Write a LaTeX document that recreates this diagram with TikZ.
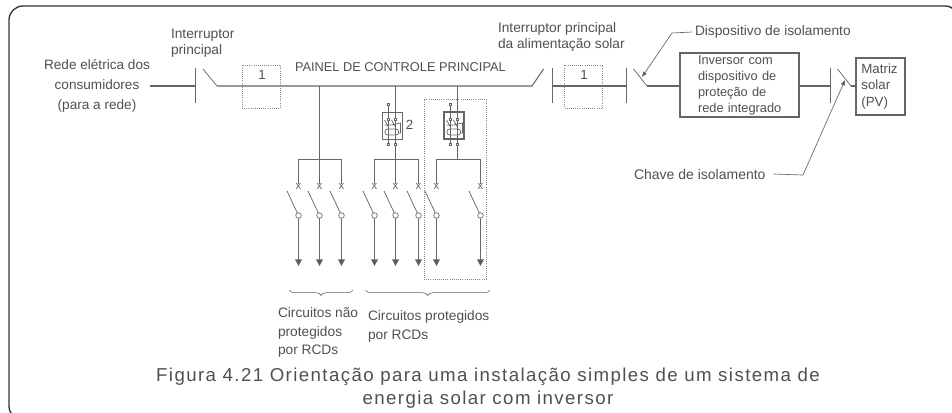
\documentclass[tikz,border=0pt]{standalone}
\usepackage{fontspec}
\setmainfont{Liberation Sans}
\newfontfamily\capfont[LetterSpace=7.5]{Liberation Sans}
\usetikzlibrary{arrows.meta,decorations.pathreplacing}
\definecolor{ink}{HTML}{505050}
\definecolor{wire}{HTML}{666666}
\definecolor{framec}{HTML}{333333}
\definecolor{dashc}{HTML}{888888}
\newcommand{\px}[2]{\fontsize{#1}{#2}\selectfont}
\tikzset{
  every node/.style={text=ink,inner sep=0pt,outer sep=0pt},
  wireline/.style={draw=wire,line width=0.78pt},
  thinwire/.style={draw=wire,line width=0.55pt},
  dashbox/.style={draw=dashc,line width=0.6pt,densely dotted},
  lab/.style={font=\px{10.3}{12},align=left},
  lead/.style={draw=wire,line width=0.5pt},
  leadarrow/.style={lead,-{Triangle[length=4pt,width=3pt,fill=wire]}},
  framebox/.style={draw=framec,line width=1pt,rounded corners=10.5pt},
  term/.style={draw=wire,line width=0.4pt,fill=white,minimum size=1.6pt,shape=rectangle},
  outarrow/.style={draw=wire,line width=0.7pt,-{Triangle[length=5pt,width=5.2pt,fill=wire!85!black]}},
  contact/.style={draw=wire,line width=0.5pt,fill=white,circle,minimum size=4.2pt},
  brace/.style={draw=wire,line width=0.45pt,decorate,decoration={brace,mirror,amplitude=4pt}}
}
% one residual current device; #1 name, #2 x of right terminal, #3 outline width
\newcommand{\rcdunit}[3]{%
  \node[draw=wire,line width=#3,minimum width=15pt,minimum height=20.25pt] (#1box) at (#2-3.5,125.5) {};
  \coordinate (#1tl) at (#2-7,104.5);
  \coordinate (#1ml) at (#2-7,119);
  \coordinate (#1mr) at (#2,119);
  \coordinate (#1bl) at (#2-7,144);
  \coordinate (#1br) at (#2,144);
  \draw[thinwire] (#1tl) -- (#1bl);
  \draw[thinwire] (#1mr) -- (#1br);
  \draw[thinwire] (#2-11,120) -- (#2-7,127) (#2-4,120) -- (#2,127);
  \draw[thinwire] (#2-11,125) -- (#2-3,125) (#2-4,125) -- (#2+5,123) -- (#2+5,133) -- (#2+3,133);
  \draw[thinwire,fill=white,rounded corners=1.9pt] (#2-10.5,129) rectangle (#2+3,135);
  \draw[thinwire] (#2-7,129) -- (#2-7,135) (#2,129) -- (#2,135);
  \foreach \t in {tl,ml,mr,bl,br}{\node[term] at (#1\t) {};}
}
% one outgoing circuit; #1 name, #2 x
\newcommand{\outcircuit}[2]{%
  \coordinate (#1top) at (#2,184);
  \coordinate (#1tip) at (#2,266);
  \node[contact] (#1c) at (#2,215.5) {};
  \coordinate (#1b) at (#2-11.5,191);
  \draw[thinwire] (#1b) -- (#1c);
  \draw[outarrow] (#1c) -- (#1tip);
  \node[text=wire,font=\px{8.5}{9}] (#1x) at (#2,186.5) {x};
}
\begin{document}
\begin{tikzpicture}[x=0.75pt,y=-0.75pt]
\useasboundingbox (0,0) rectangle (952,412);
\clip (0,0) rectangle (952,412);
\draw[framebox] (9,6) rectangle (959,420);

% labels
\node[lab,anchor=west] (ip) at (171,43) {Interruptor\\principal};
\node[font=\px{10.2}{15},align=center] (rede) at (97,86) {Rede elétrica dos\\consumidores\\(para a rede)};
\node[font=\px{9.6}{12},anchor=west] (painel) at (295,67) {PAINEL DE CONTROLE PRINCIPAL};
\node[lab,anchor=west] (ips) at (498,37) {Interruptor principal\\da alimentação solar};
\node[font=\px{10.3}{12},anchor=west] (disp) at (695,32) {Dispositivo de isolamento};
\node[font=\px{10.5}{12},anchor=west] (chave) at (634,174) {Chave de isolamento};

% boxes
\node[dashbox,minimum width=28.5pt,minimum height=32.25pt] (d1) at (261,86.5) {};
\node[font=\px{10}{12}] (n1) at (262,75) {1};
\node[dashbox,minimum width=28.5pt,minimum height=32.25pt] (d2) at (583.5,86.5) {};
\node[font=\px{10}{12}] (n2) at (584,75) {1};
\node[dashbox,minimum width=46.5pt,minimum height=135pt] (d3) at (455,189) {};
\node[draw=wire,line width=0.8pt,text width=89.25pt,minimum height=48pt,font=\px{9.6}{12},align=left] (inv) at (739.5,85) {\hspace*{13.5pt}Inversor com\\\hspace*{13.5pt}dispositivo de\\\hspace*{13.5pt}proteção de\\\hspace*{13.5pt}rede integrado};
\node[draw=wire,line width=0.8pt,text width=36.75pt,minimum height=42.75pt,font=\px{10}{12.4},align=left] (pv) at (880.5,86.5) {\hspace*{4pt}Matriz\\\hspace*{4pt}solar\\\hspace*{4pt}(PV)};

% main bus and switches
\coordinate (b1t) at (195.5,68); \coordinate (b1b) at (195.5,103); \coordinate (b1m) at (195.5,86);
\coordinate (s1a) at (203,69); \coordinate (s1b) at (217,86);
\coordinate (s2a) at (532,86); \coordinate (s2b) at (543.5,69);
\coordinate (b2t) at (552.5,68); \coordinate (b2b) at (552.5,103); \coordinate (b2m) at (552.5,86);
\coordinate (b3t) at (626.5,68); \coordinate (b3b) at (626.5,103); \coordinate (b3m) at (626.5,86);
\coordinate (s3a) at (633.5,69); \coordinate (s3b) at (647,86);
\coordinate (b4t) at (830.5,68); \coordinate (b4b) at (830.5,103); \coordinate (b4m) at (830.5,86);
\coordinate (s4a) at (837.5,69); \coordinate (s4b) at (851,86);
\draw[wireline] (rede.east |- b1m) -- (b1m);
\draw[wireline] (b1t) -- (b1b);
\draw[thinwire] (s1a) -- (s1b);
\draw[wireline] (s1b) -- (s2a) -- (s2b);
\draw[wireline] (b2t) -- (b2b);
\draw[wireline] (b2m) -- (b3m);
\draw[wireline] (b3t) -- (b3b);
\draw[thinwire] (s3a) -- (s3b);
\draw[wireline] (s3b) -- (inv.west |- s3b);
\draw[wireline] (inv.east |- b4m) -- (b4m);
\draw[wireline] (b4t) -- (b4b);
\draw[thinwire] (s4a) -- (s4b);
\draw[wireline] (s4b) -- (pv.west |- s4b);

% RCD branches
\coordinate (t1) at (319.5,86); \coordinate (f1) at (319.5,159.5);
\coordinate (t2) at (395.5,86); \coordinate (f2) at (395.5,159.5);
\coordinate (t3) at (457.5,86); \coordinate (f3) at (457.5,159.5);
\draw[wireline] (t1) -- (f1);
\draw[wireline] (t2) -- (f2);
\draw[wireline] (t3) -- (f3);
\rcdunit{ra}{395.5}{0.6pt}
\rcdunit{rb}{457.5}{1pt}
\node[font=\px{10}{12}] (n3) at (409.5,125) {2};

\outcircuit{a}{298.5}
\outcircuit{bb}{319.5}
\outcircuit{c}{341.5}
\outcircuit{d}{374.5}
\outcircuit{e}{395.5}
\outcircuit{f}{418.5}
\outcircuit{g}{436.5}
\outcircuit{h}{480.5}
\draw[wireline] (atop) |- (f1) -| (ctop);
\draw[wireline] (dtop) |- (f2) -| (ftop);
\draw[wireline] (gtop) |- (f3) -| (htop);
\draw[wireline] (f1) -- (bbtop);
\draw[wireline] (f2) -- (etop);

% leaders
\coordinate (dk) at (672,33); \coordinate (dp) at (642,77);
\draw[lead] (disp.west) ++(-3,0) -- (dk);
\draw[leadarrow] (dk) -- (dp);
\coordinate (ck) at (803,175); \coordinate (cp) at (845,80);
\draw[lead] (chave.east) ++(8,0) -- (ck);
\draw[leadarrow] (ck) -- (cp);

% braces
\coordinate (ba) at (289,290); \coordinate (bbb) at (353,290);
\coordinate (bc) at (365.5,290); \coordinate (bd) at (490,290);
\draw[brace] (ba) -- (bbb);
\draw[brace] (bc) -- (bd);
\node[font=\px{10.3}{14},align=left,anchor=north west] (u) at (278,307.5) {Circuitos não\\protegidos\\por RCDs};
\node[font=\px{10.3}{14},align=left,anchor=north west] (v) at (368,311) {Circuitos protegidos\\por RCDs};

% caption
\node[font=\capfont\px{14}{17.25},align=center] (cap) at (488,388.5) {Figura 4.21 Orientação para uma instalação simples de um sistema de\\energia solar com inversor};
\end{tikzpicture}
\end{document}
